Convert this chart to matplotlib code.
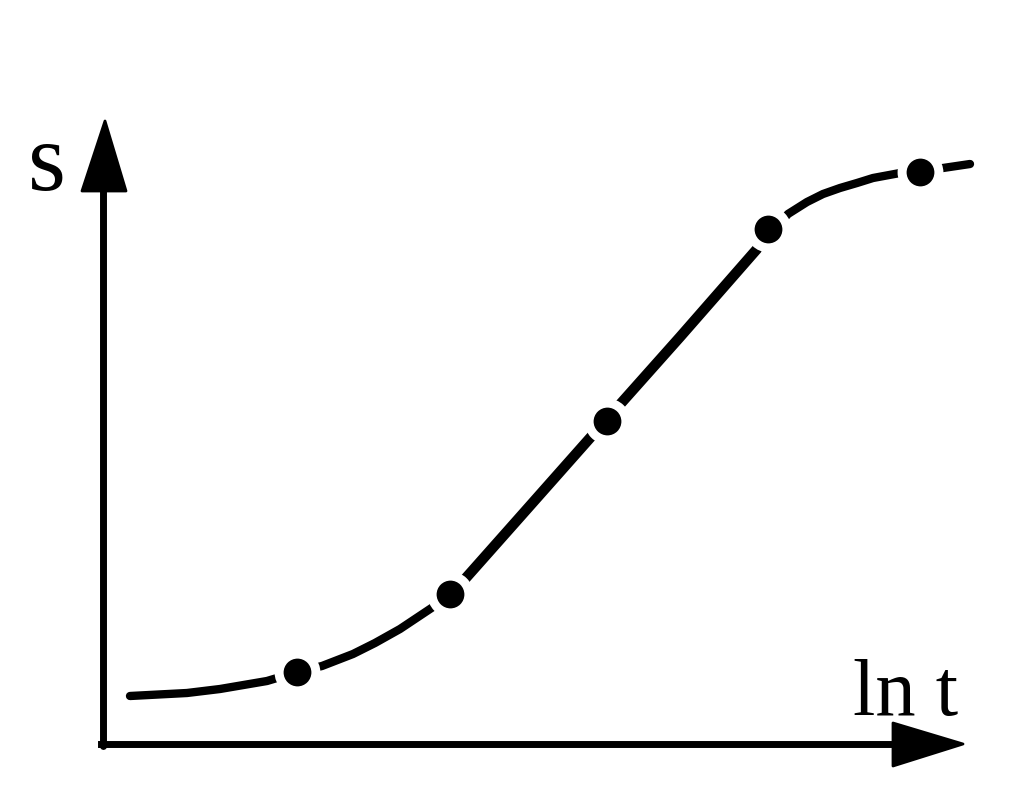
import matplotlib.pyplot as plt

# ln t / s values (arbitrary units, origin at the axes corner)
ln_t = [27, 84, 117, 164, 194, 219, 250, 272, 297, 330, 347, 362, 417, 487,
        504, 577, 654, 685, 704, 720, 737, 754, 770, 797, 817, 840, 867]
s = [48, 51, 55, 63, 72, 78, 90, 101, 115, 137, 150, 165, 227, 306,
     325, 407, 495, 530, 542, 550, 556, 561, 566, 571, 573, 576, 580]

# measured points
pt_t = [194, 347, 504, 665, 817]
pt_s = [72, 150, 323, 515, 572]

fig = plt.figure(figsize=(10.2, 8.03), dpi=100)
ax = fig.add_axes([0, 0, 1, 1])
ax.set_xlim(-103, 917)
ax.set_ylim(-58, 745)
ax.axis('off')

# axes with arrow heads
ax.plot([0, 0], [-2, 560], color='black', lw=5, solid_capstyle='round')
ax.plot([-2, 0], [0, 0], color='black', lw=5)
ax.plot([0, 795], [0, 0], color='black', lw=5, solid_capstyle='round')
ax.fill([2, -21, 23], [623, 553, 553], color='black', lw=2, joinstyle='round')
ax.fill([860, 790, 790], [0, 21, -22], color='black', lw=2, joinstyle='round')

# curve (steep middle part drawn a bit heavier), gaps around points, then points
ax.plot(ln_t, s, color='black', lw=6, solid_capstyle='round', solid_joinstyle='round')
ax.plot(ln_t[10:17], s[10:17], color='black', lw=7.5, solid_capstyle='round')
ax.plot(pt_t, pt_s, 'o', color='white', markersize=33, markeredgewidth=0)
ax.plot(pt_t, pt_s, 'o', color='black', markersize=20, markeredgewidth=0)

ax.text(-56, 555, 's', fontsize=70, family='Liberation Serif', ha='center', va='baseline')
ax.text(750, 30, 'ln t', fontsize=58, family='Liberation Serif', ha='left', va='baseline')

fig.savefig('out.png', dpi=100, facecolor='white')
